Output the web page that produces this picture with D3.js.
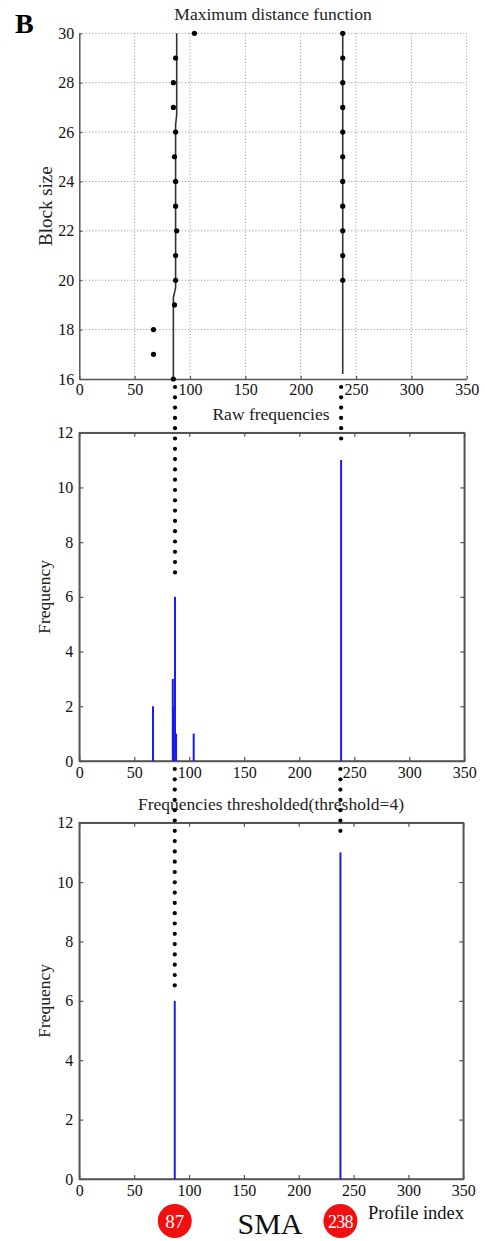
<!DOCTYPE html>
<html>
<head>
<meta charset="utf-8">
<script src="https://cdn.jsdelivr.net/npm/d3@7"></script>
<style>
  html, body { margin: 0; padding: 0; background: #fff; }
  svg { display: block; }
  svg text { font-family: "Liberation Serif", "Times New Roman", serif; }
</style>
</head>
<body>
<svg id="chart" width="485" height="1241"></svg>
<script>
// ---- data ----
const xTicks = [0, 50, 100, 150, 200, 250, 300, 350];
const blockTicks = [16, 18, 20, 22, 24, 26, 28, 30];
const freqTicks = [0, 2, 4, 6, 8, 10, 12];

// profile index of the maximum distance for each block size
const blockSizes   = [16, 17, 18, 19, 20, 21, 22, 23, 24, 25, 26, 27, 28, 29, 30];
const maxIndexA    = [85, 67, 67, 86, 87, 87, 88, 87, 87, 86, 87, 85, 85, 87, 104];
const blockSizesB  = [20, 21, 22, 23, 24, 25, 26, 27, 28, 29, 30];
const maxIndexB    = [238, 238, 238, 238, 238, 238, 238, 238, 238, 238, 238];

// traced profile lines in the top panel
const traceA = [[85, 16], [85, 19.3], [87, 19.7], [87, 26.3], [88, 26.7], [88, 30]];
const traceB = [[238, 16.2], [238, 30]];

// raw frequency of each profile index
const rawIndex = [67, 85, 86, 87, 88, 104, 238];
const rawFreq  = [2, 3, 2, 6, 1, 1, 11];

// frequencies after threshold = 4
const thrIndex = [87, 238];
const thrFreq  = [6, 11];

// ---- layout ----
const svg = d3.select("#chart");
const FONT = '"Liberation Serif", "Times New Roman", serif';
const axisColor = "#555";
const barColor = "#1c1cf0";

const P1 = { left: 79.3, right: 466.7, top: 33.3, bottom: 379 };
const P2 = { left: 79.3, right: 464.3, top: 432.7, bottom: 761 };
const P3 = { left: 79.3, right: 463.3, top: 822.7, bottom: 1179 };

const x1 = d3.scaleLinear().domain([0, 350]).range([P1.left, P1.right]);
const y1 = d3.scaleLinear().domain([16, 30]).range([P1.bottom, P1.top]);
const x2 = d3.scaleLinear().domain([0, 350]).range([P2.left, P2.right]);
const y2 = d3.scaleLinear().domain([0, 12]).range([P2.bottom, P2.top]);
const x3 = d3.scaleLinear().domain([0, 350]).range([P3.left, P3.right]);
const y3 = d3.scaleLinear().domain([0, 12]).range([P3.bottom, P3.top]);

function styleAxis(g) {
  g.attr("font-family", null).attr("font-size", null);
  g.selectAll("path.domain").attr("stroke", axisColor).attr("stroke-width", 1.5);
  g.selectAll(".tick line").attr("stroke", axisColor).attr("stroke-width", 1.2);
  g.selectAll(".tick text").attr("fill", "#111")
    .style("font-size", "16px").style("font-family", FONT);
}

function label(sel) {
  return sel.style("font-family", FONT);
}

// panel label
label(svg.append("text").attr("x", 15).attr("y", 33))
  .style("font-size", "28px").attr("font-weight", "bold")
  .text("B");

// ===== Top panel: Maximum distance function =====
const g1 = svg.append("g");
// dotted grid
g1.append("g").selectAll("line").data(xTicks.filter(d => d > 0)).join("line")
  .attr("x1", d => x1(d)).attr("x2", d => x1(d))
  .attr("y1", P1.top).attr("y2", P1.bottom)
  .attr("stroke", "#8a8a8a").attr("stroke-width", 1).attr("stroke-dasharray", "1,2.2");
g1.append("g").selectAll("line").data(blockTicks.filter(d => d > 16)).join("line")
  .attr("x1", P1.left).attr("x2", P1.right)
  .attr("y1", d => y1(d)).attr("y2", d => y1(d))
  .attr("stroke", "#8a8a8a").attr("stroke-width", 1).attr("stroke-dasharray", "1,2.2");

const ax1 = g1.append("g").attr("transform", `translate(0,${P1.bottom})`)
  .call(d3.axisBottom(x1).tickValues(xTicks).tickSizeInner(-3).tickSizeOuter(0).tickPadding(5));
styleAxis(ax1);
const ay1 = g1.append("g").attr("transform", `translate(${P1.left},0)`)
  .call(d3.axisLeft(y1).tickValues(blockTicks).tickSizeInner(-3).tickSizeOuter(0).tickPadding(5));
styleAxis(ay1);

const line1 = d3.line().x(d => x1(d[0])).y(d => y1(d[1]));
g1.append("path").attr("d", line1(traceA)).attr("fill", "none")
  .attr("stroke", "#333").attr("stroke-width", 1.6);
g1.append("path").attr("d", line1(traceB)).attr("fill", "none")
  .attr("stroke", "#333").attr("stroke-width", 1.6);

g1.append("g").selectAll("circle").data(blockSizes.map((b, i) => [maxIndexA[i], b])).join("circle")
  .attr("cx", d => x1(d[0])).attr("cy", d => y1(d[1])).attr("r", 2.6).attr("fill", "#000");
g1.append("g").selectAll("circle").data(blockSizesB.map((b, i) => [maxIndexB[i], b])).join("circle")
  .attr("cx", d => x1(d[0])).attr("cy", d => y1(d[1])).attr("r", 2.6).attr("fill", "#000");

label(g1.append("text").attr("x", 273).attr("y", 20).attr("text-anchor", "middle"))
  .style("font-size", "17.5px").attr("fill", "#222")
  .text("Maximum distance function");
label(g1.append("text").attr("transform", `translate(52,${(P1.top + P1.bottom) / 2}) rotate(-90)`)
  .attr("text-anchor", "middle"))
  .style("font-size", "19px").attr("fill", "#222")
  .text("Block size");

// ===== Frequency panels (boxed, inward ticks on all sides) =====
function freqPanel(P, xs, ys, idx, freq, title, titleY) {
  const g = svg.append("g");
  g.append("rect").attr("x", P.left).attr("y", P.top)
    .attr("width", P.right - P.left).attr("height", P.bottom - P.top)
    .attr("fill", "none").attr("stroke", axisColor).attr("stroke-width", 1.5);
  const ab = g.append("g").attr("transform", `translate(0,${P.bottom})`)
    .call(d3.axisBottom(xs).tickValues(xTicks).tickSizeInner(-4).tickSizeOuter(0).tickPadding(6));
  styleAxis(ab);
  const at = g.append("g").attr("transform", `translate(0,${P.top})`)
    .call(d3.axisTop(xs).tickValues(xTicks).tickSizeInner(-4).tickSizeOuter(0).tickFormat(""));
  styleAxis(at);
  const al = g.append("g").attr("transform", `translate(${P.left},0)`)
    .call(d3.axisLeft(ys).tickValues(freqTicks).tickSizeInner(-4).tickSizeOuter(0).tickPadding(6));
  styleAxis(al);
  const ar = g.append("g").attr("transform", `translate(${P.right},0)`)
    .call(d3.axisRight(ys).tickValues(freqTicks).tickSizeInner(-4).tickSizeOuter(0).tickFormat(""));
  styleAxis(ar);

  g.append("g").selectAll("rect").data(idx.map((d, i) => [d, freq[i]])).join("rect")
    .attr("x", d => xs(d[0]) - 1).attr("width", 2)
    .attr("y", d => ys(d[1])).attr("height", d => ys(0) - ys(d[1]))
    .attr("fill", barColor);

  label(g.append("text").attr("x", 271).attr("y", titleY).attr("text-anchor", "middle"))
    .style("font-size", "17.5px").attr("fill", "#222").text(title);
  label(g.append("text").attr("transform", `translate(50,${(P.top + P.bottom) / 2}) rotate(-90)`)
    .attr("text-anchor", "middle"))
    .style("font-size", "17.5px").attr("fill", "#222")
    .text("Frequency");
  return g;
}

freqPanel(P2, x2, y2, rawIndex, rawFreq, "Raw frequencies", 420);
freqPanel(P3, x3, y3, thrIndex, thrFreq, "Frequencies thresholded(threshold=4)", 810);

// ===== dotted connectors linking the selected profiles across panels =====
const DOT_STEP = 10.3;
function dotColumn(cx, yStart, yEnd) {
  const ys = d3.range(yStart, yEnd + 0.01, DOT_STEP);
  svg.append("g").selectAll("circle").data(ys).join("circle")
    .attr("cx", cx).attr("cy", d => d).attr("r", 2.1).attr("fill", "#000");
}
thrIndex.forEach((idx, i) => {
  const v = thrFreq[i];
  dotColumn(x2(idx), P1.bottom + 8, y2(v + 0.55));
  dotColumn(x3(idx), P2.bottom + 8, y3(v + 0.45));
});

// ===== selected profiles (SMA) =====
const ann = svg.append("g");
const annY = 1221;
thrIndex.forEach(idx => {
  ann.append("circle").attr("cx", x3(idx)).attr("cy", annY).attr("r", 17).attr("fill", "#f01010");
  label(ann.append("text").attr("x", x3(idx)).attr("y", annY + 6.5).attr("text-anchor", "middle"))
    .style("font-size", idx > 99 ? "18px" : "19px").attr("fill", "#fff")
    .attr("letter-spacing", idx > 99 ? -0.8 : 0).text(idx);
});
label(ann.append("text").attr("x", 270).attr("y", 1234).attr("text-anchor", "middle"))
  .style("font-size", "30px").attr("fill", "#111").text("SMA");
label(ann.append("text").attr("x", 368).attr("y", 1219))
  .style("font-size", "18.5px").attr("fill", "#111").text("Profile index");
</script>
</body>
</html>
